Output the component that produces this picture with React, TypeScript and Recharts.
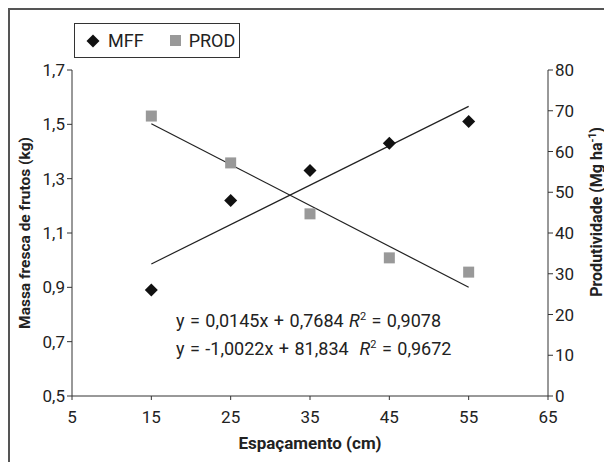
import React from "react"
import {
  ComposedChart,
  Scatter,
  Line,
  XAxis,
  YAxis,
} from "recharts"

// spacing (cm)
const espacamento = [15, 25, 35, 45, 55]
// massa fresca de frutos (kg)
const mff = [0.89, 1.22, 1.33, 1.43, 1.51]
// produtividade (Mg/ha)
const prod = [68.7, 57.2, 44.7, 33.9, 30.4]

// trend line end points
const trendX = [15, 55]
const trendMFF = [0.986, 1.566]
const trendPROD = [66.8, 26.7]

const xTicks = [5, 15, 25, 35, 45, 55, 65]
const leftTicks = [0.5, 0.7, 0.9, 1.1, 1.3, 1.5, 1.7]
const rightTicks = [0, 10, 20, 30, 40, 50, 60, 70, 80]

const eqMFF = "y = 0,0145x + 0,7684 "
const r2MFF = " = 0,9078"
const eqPROD = "y = -1,0022x + 81,834  "
const r2PROD = " = 0,9672"

const FONT = "Roboto, 'Noto Sans', sans-serif"
const AXIS = "#333"

const mffData = espacamento.map((x, i) => ({ x, y: mff[i] }))
const prodData = espacamento.map((x, i) => ({ x, y: prod[i] }))
const mffTrend = trendX.map((x, i) => ({ x, y: trendMFF[i] }))
const prodTrend = trendX.map((x, i) => ({ x, y: trendPROD[i] }))

const comma = (v: number) => String(v).replace(".", ",")

const Diamond = (props: any) => {
  const { cx, cy } = props
  const r = 6.5
  return (
    <path
      d={`M${cx},${cy - r} L${cx + r},${cy} L${cx},${cy + r} L${cx - r},${cy} Z`}
      fill="#111"
    />
  )
}

const Square = (props: any) => {
  const { cx, cy } = props
  const s = 11
  return <rect x={cx - s / 2} y={cy - s / 2} width={s} height={s} fill="#999" />
}

const tickStyle = { fontSize: 17, fill: "#222", fontFamily: FONT }

const RightLabel = () => {
  const cx = 594
  const cy = 204
  return (
    <text
      x={cx}
      y={cy}
      transform={`rotate(-90 ${cx} ${cy})`}
      textAnchor="middle"
      fontSize={16}
      fontWeight="bold"
      fontFamily={FONT}
      fill="#222"
    >
      Produtividade (Mg ha
      <tspan fontSize={10} dy={-6}>-1</tspan>
      <tspan dy={6}>)</tspan>
    </text>
  )
}

export default function App() {
  return (
    <div
      style={{
        position: "relative",
        width: 604,
        height: 454,
        borderTop: "2px solid #555",
        borderLeft: "2px solid #555",
        boxSizing: "border-box",
        fontFamily: FONT,
      }}
    >
      <div style={{ position: "absolute", left: -2, top: -2 }}>
        <ComposedChart
          width={604}
          height={454}
          margin={{ top: 62, right: 0, left: 0, bottom: 0 }}
        >
          <XAxis
            xAxisId={0}
            type="number"
            dataKey="x"
            domain={[5, 65]}
            ticks={xTicks}
            height={66}
            stroke={AXIS}
            tick={tickStyle}
            tickSize={4}
            tickMargin={11}
            label={{
              value: "Espaçamento (cm)",
              position: "insideBottom",
              offset: 13,
              style: {
                fontSize: 17,
                fontWeight: "bold",
                fill: "#222",
                fontFamily: FONT,
              },
            }}
          />
          <YAxis
            yAxisId="left"
            type="number"
            domain={[0.5, 1.7]}
            ticks={leftTicks}
            width={64}
            stroke={AXIS}
            tick={tickStyle}
            tickSize={5}
            tickFormatter={(v: number) => comma(v)}
            label={{
              value: "Massa fresca de frutos (kg)",
              angle: -90,
              position: "insideLeft",
              offset: 16,
              style: {
                fontSize: 15.5,
                fontWeight: "bold",
                fill: "#222",
                fontFamily: FONT,
                textAnchor: "middle",
              },
            }}
          />
          <YAxis
            yAxisId="right"
            orientation="right"
            type="number"
            domain={[0, 80]}
            ticks={rightTicks}
            width={64}
            stroke={AXIS}
            tick={tickStyle}
            tickSize={5}
            label={<RightLabel />}
          />
          <Line
            yAxisId="left"
            data={mffTrend}
            dataKey="y"
            stroke="#222"
            strokeWidth={1.2}
            dot={false}
            isAnimationActive={false}
          />
          <Line
            yAxisId="right"
            data={prodTrend}
            dataKey="y"
            stroke="#222"
            strokeWidth={1.2}
            dot={false}
            isAnimationActive={false}
          />
          <Scatter
            yAxisId="left"
            data={mffData}
            dataKey="y"
            shape={Diamond}
            isAnimationActive={false}
          />
          <Scatter
            yAxisId="right"
            data={prodData}
            dataKey="y"
            shape={Square}
            isAnimationActive={false}
          />
        </ComposedChart>
      </div>

      {/* legend */}
      <div
        style={{
          position: "absolute",
          left: 64,
          top: 13,
          width: 166,
          height: 35,
          border: "1px solid #333",
          display: "flex",
          alignItems: "center",
          fontSize: 18,
          color: "#222",
          boxSizing: "border-box",
        }}
      >
        <svg width={14} height={14} style={{ marginLeft: 11 }}>
          <path d="M7,0.5 L13.5,7 L7,13.5 L0.5,7 Z" fill="#111" />
        </svg>
        <span style={{ marginLeft: 8 }}>MFF</span>
        <svg width={11} height={11} style={{ marginLeft: 26 }}>
          <rect width={11} height={11} fill="#999" />
        </svg>
        <span style={{ marginLeft: 8 }}>PROD</span>
      </div>

      {/* regression equations */}
      <div
        style={{
          position: "absolute",
          left: 166,
          top: 297,
          fontSize: 18,
          color: "#222",
          lineHeight: "28px",
          whiteSpace: "pre",
          wordSpacing: 1,
        }}
      >
        <div>
          {eqMFF}
          <i>R</i>
          <sup style={{ fontSize: 11, lineHeight: 0 }}>2</sup>
          {r2MFF}
        </div>
        <div>
          {eqPROD}
          <i>R</i>
          <sup style={{ fontSize: 11, lineHeight: 0 }}>2</sup>
          {r2PROD}
        </div>
      </div>
    </div>
  )
}
